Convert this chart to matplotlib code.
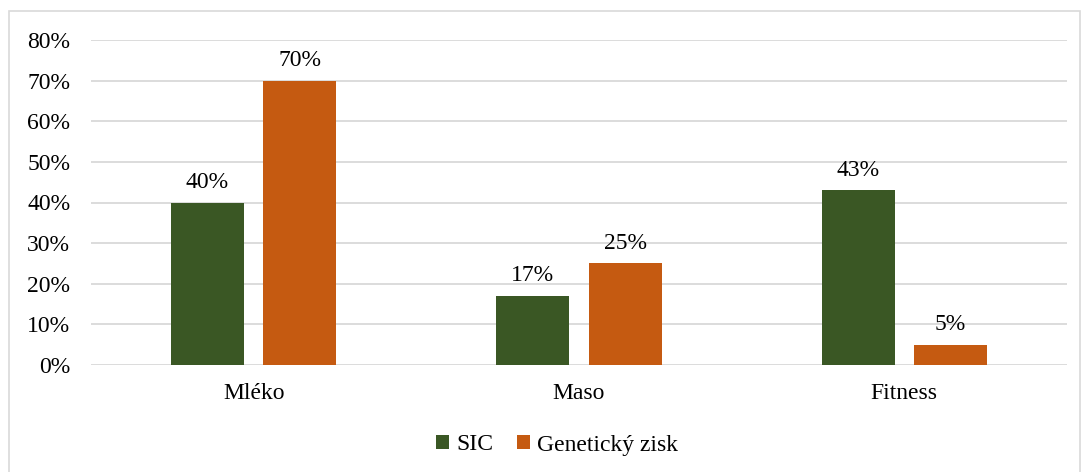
import matplotlib.pyplot as plt
import numpy as np
from matplotlib.patches import Rectangle

categories = ["Mléko", "Maso", "Fitness"]
sic = [40, 17, 43]
zisk = [70, 25, 5]
series_names = ["SIC", "Genetický zisk"]
yticks = [0, 10, 20, 30, 40, 50, 60, 70, 80]

plt.rcParams['font.family'] = ['Liberation Serif', 'DejaVu Serif']

green = "#3A5724"
orange = "#C55A11"
fs = 17

fig = plt.figure(figsize=(10.87, 4.72), dpi=100)
fig.patches.append(Rectangle((9/1087, -0.01), 1071/1087, 461/472 + 0.01, transform=fig.transFigure,
                             fill=False, edgecolor="#D9D9D9", linewidth=1.2))
ax = fig.add_axes([91/1087, 107/472, 976/1087, 325/472])

x = np.arange(len(categories))
w = 0.225
off = 0.142
b1 = ax.bar(x - off, sic, w, color=green, label=series_names[0], zorder=3)
b2 = ax.bar(x + off, zisk, w, color=orange, label=series_names[1], zorder=3)

for bars in (b1, b2):
    for r in bars:
        ax.text(r.get_x() + r.get_width() / 2, r.get_height() + 2.4, f"{int(r.get_height())}%",
                ha="center", va="bottom", fontsize=fs)

ax.set_xlim(-0.5, 2.5)
ax.set_ylim(0, 80)
ax.set_yticks(yticks)
ax.set_yticklabels([f"{t}%" for t in yticks], fontsize=fs)
ax.set_xticks(x)
ax.set_xticklabels(categories, fontsize=fs)
ax.tick_params(axis="both", length=0)
ax.tick_params(axis="x", pad=13)
ax.tick_params(axis="y", pad=15)
ax.grid(axis="y", color="#D9D9D9", linewidth=1.3, zorder=0)
for s in ax.spines.values():
    s.set_visible(False)

fig.legend(loc="center", bbox_to_anchor=(557/1087, 27/472), ncol=2, frameon=False, fontsize=fs,
           handlelength=0.55, handleheight=0.55, handletextpad=0.3, columnspacing=1.0)

fig.savefig("out.png", dpi=100)
